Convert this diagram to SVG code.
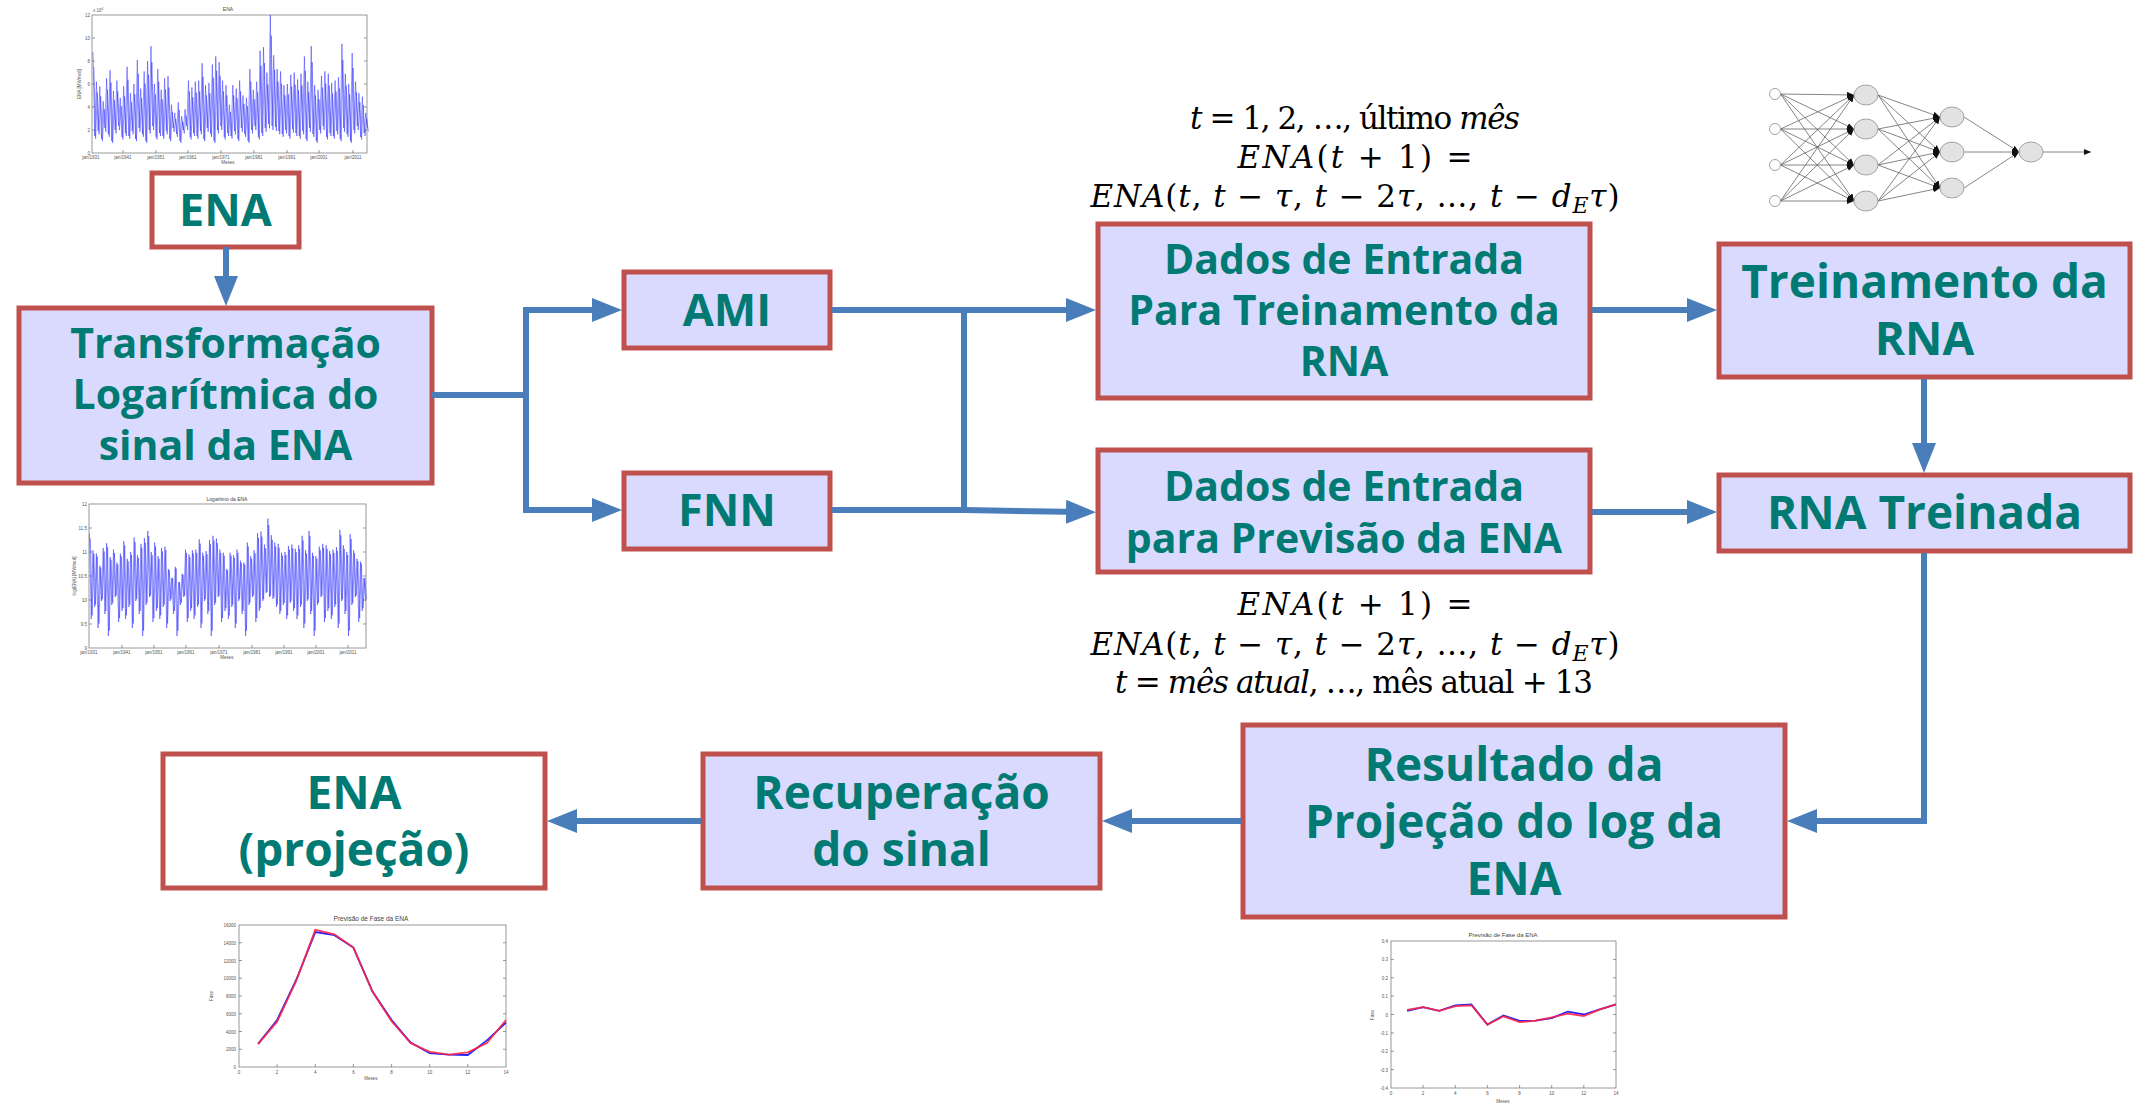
<svg xmlns="http://www.w3.org/2000/svg" width="2138" height="1111" viewBox="0 0 2138 1111">
<style>
.box{stroke:#C0504D;stroke-width:5;fill:#D9DAFD}
.wbox{stroke:#C0504D;stroke-width:5;fill:#FFFFFF}
.lbl{font-family:"Open Sans","Liberation Sans",sans-serif;font-weight:700;fill:#007A73;text-anchor:middle}
.con{stroke:#4A7EBB;stroke-width:6;fill:none}
.math{font-family:"DejaVu Serif","Liberation Serif",serif;font-size:31px;fill:#000;text-anchor:middle}
.it{font-style:italic}
.ax{fill:none;stroke:#555;stroke-width:0.6}
.tk{font-family:"Liberation Sans",Arial,sans-serif;fill:#555;font-size:4.5px}
.tkm{text-anchor:middle}
.tke{text-anchor:end}
.ct{font-family:"Liberation Sans",Arial,sans-serif;fill:#444;text-anchor:middle}
.ser{fill:none;stroke:#3333ff;stroke-width:0.8;stroke-opacity:0.65}
.ser2{stroke-opacity:0.3}
.blue{fill:none;stroke:#2424ff;stroke-width:1.8}
.red{fill:none;stroke:#ff2445;stroke-width:1.8;stroke-opacity:0.9}
.nn{stroke:#666;stroke-width:0.8;fill:none}
.nnode{fill:#e2e2e2;stroke:#999;stroke-width:0.9}
.inode{fill:#fff;stroke:#999;stroke-width:0.9}
</style>
<defs>
<marker id="ah" viewBox="0 0 30 24" markerWidth="30" markerHeight="24" refX="15" refY="12" orient="auto" markerUnits="userSpaceOnUse"><path d="M0,0 L30,12 L0,24 z" fill="#4A7EBB"/></marker>
<marker id="nah" viewBox="0 0 7 6" markerWidth="7" markerHeight="6" refX="7" refY="3" orient="auto" markerUnits="userSpaceOnUse"><path d="M0,0 L7,3 L0,6 z" fill="#111"/></marker>
</defs>
<rect width="2138" height="1111" fill="#FFFFFF"/>

<!-- Chart: ENA -->
<g id="chart-ena">
<text class="ct" x="228" y="11" font-size="5">ENA</text>
<text class="tk" x="93" y="12">x 10<tspan font-size="3" dy="-2">4</tspan></text>
<polyline id="s1" class="ser" vector-effect="non-scaling-stroke" transform="translate(93,0) scale(1.705,1)" points="0,51.8 1,136 2,81.7 3,131 4,86.3 5,139 6,101.3 7,128 8,78.3 9,134 10,70.2 11,141 12,90.9 13,130 14,80.6 15,126 16,97.8 17,137 18,86.3 19,133 20,66.8 21,136 22,93.2 23,131 24,84 25,139 26,59.9 27,128 28,88.6 29,134 30,71.4 31,141 32,61 33,130 34,46.1 35,126 36,84 37,137 38,69.1 39,133 40,89.8 41,136 42,78.3 43,131 44,76 45,139 46,104.7 47,128 48,112.8 49,134 50,102.4 51,141 52,116.2 53,130 54,109.3 55,126 56,80.6 57,137 58,87.5 59,133 60,81.7 61,136 62,80.6 63,131 64,63.3 65,139 66,85.2 67,128 68,82.9 69,134 70,64.5 71,141 72,56.4 73,130 74,62.2 75,126 76,80.6 77,137 78,85.2 79,133 80,104.7 81,136 82,85.2 83,131 84,88.6 85,139 86,80.6 87,128 88,95.5 89,134 90,97.8 91,141 92,69.1 93,130 94,89.8 95,126 96,81.7 97,137 98,50.7 99,133 100,47.2 101,128 102,72.5 103,124 104,15 105,126 106,55.3 107,127 108,69.1 109,131 110,71.4 111,134 112,85.2 113,130 114,84 115,136 116,74.8 117,129 118,72.5 119,133 120,79.4 121,136 122,73.7 123,131 124,56.4 125,139 126,81.7 127,128 128,46.1 129,134 130,85.2 131,141 132,89.8 133,130 134,76 135,126 136,71.4 137,137 138,73.7 139,133 140,82.9 141,136 142,80.6 143,131 144,77.1 145,139 146,43.8 147,128 148,73.7 149,134 150,84 151,141 152,53 153,130 154,81.7 155,126 156,93.2 157,137 158,96.7 159,133 160,112.8 161,128"/>
<use href="#s1" class="ser2" transform="translate(0.9,0) translate(0,153) scale(1,0.85) translate(0,-153)"/>
<rect class="ax" x="92" y="15" width="275" height="138"/>
<path class="ax" d="M92,130h3M92,107h3M92,84h3M92,61h3M92,38h3M367,130h-3M367,107h-3M367,84h-3M367,61h-3M367,38h-3M123,153v-3M156,153v-3M188,153v-3M221,153v-3M254,153v-3M287,153v-3M319,153v-3M353,153v-3"/>
<text class="tk tke" x="90" y="155">0</text><text class="tk tke" x="90" y="132">2</text><text class="tk tke" x="90" y="109">4</text><text class="tk tke" x="90" y="86">6</text><text class="tk tke" x="90" y="63">8</text><text class="tk tke" x="90" y="40">10</text><text class="tk tke" x="90" y="17">12</text>
<text class="tk tkm" x="91" y="159">jan/1931</text><text class="tk tkm" x="123" y="159">jan/1941</text><text class="tk tkm" x="156" y="159">jan/1951</text><text class="tk tkm" x="188" y="159">jan/1961</text><text class="tk tkm" x="221" y="159">jan/1971</text><text class="tk tkm" x="254" y="159">jan/1981</text><text class="tk tkm" x="287" y="159">jan/1991</text><text class="tk tkm" x="319" y="159">jan/2001</text><text class="tk tkm" x="353" y="159">jan/2011</text>
<text class="tk tkm" x="228" y="164">Meses</text>
<text class="tk tkm" transform="translate(81,84) rotate(-90)">ENA [MWmed]</text>
</g>

<!-- Chart: Logaritmo da ENA -->
<g id="chart-log">
<text class="ct" x="227" y="501" font-size="5">Logaritmo da ENA</text>
<polyline id="s2" class="ser" vector-effect="non-scaling-stroke" transform="translate(89.5,0) scale(1.715,1)" points="0,533.5 1,619 2,550.3 3,607 4,553.5 5,628 6,565.7 7,601 8,548 9,614 10,543.2 11,636 12,557 13,605 14,549.6 15,597 16,562.6 17,622 18,553.5 19,611 20,541.2 21,619 22,558.8 23,607 24,551.9 25,628 26,537.5 27,601 28,555.2 29,614 30,543.8 31,636 32,538.1 33,605 34,530.9 35,597 36,551.9 37,622 38,542.5 39,611 40,556.1 41,619 42,548 43,607 44,546.6 45,628 46,569 47,601 48,577.8 49,614 50,566.8 51,636 52,582.1 53,605 54,573.8 55,597 56,549.6 57,622 58,554.4 59,611 60,550.3 61,619 62,549.6 63,607 64,539.3 65,628 66,552.7 67,601 68,551.1 69,614 70,540 71,636 72,535.8 73,605 74,538.7 75,597 76,549.6 77,622 78,552.7 79,611 80,569 81,619 82,552.7 83,607 84,555.2 85,628 86,549.6 87,601 88,560.7 89,614 90,562.6 91,636 92,542.5 93,605 94,556.1 95,597 96,550.3 97,622 98,533 99,611 100,531.4 101,601 102,544.5 103,593 104,518.6 105,597 106,535.2 107,599 108,542.5 109,607 110,543.8 111,614 112,552.7 113,605 114,551.9 115,619 116,545.9 117,603 118,544.5 119,611 120,548.8 121,619 122,545.2 123,607 124,535.8 125,628 126,550.3 127,601 128,530.9 129,614 130,552.7 131,636 132,556.1 133,605 134,546.6 135,597 136,543.8 137,622 138,545.2 139,611 140,551.1 141,619 142,549.6 143,607 144,547.3 145,628 146,529.9 147,601 148,545.2 149,614 150,551.9 151,636 152,534.1 153,605 154,550.3 155,597 156,558.8 157,622 158,561.6 159,611 160,577.8 161,601"/>
<use href="#s2" class="ser2" transform="translate(0.9,0) translate(0,583) scale(1,0.9) translate(0,-583)"/>
<rect class="ax" x="89" y="504" width="277" height="144"/>
<path class="ax" d="M89,528h3M89,552h3M89,576h3M89,600h3M89,624h3M366,528h-3M366,552h-3M366,576h-3M366,600h-3M366,624h-3M122,648v-3M154,648v-3M186,648v-3M219,648v-3M252,648v-3M284,648v-3M316,648v-3M348,648v-3"/>
<text class="tk tke" x="87" y="650">9</text><text class="tk tke" x="87" y="626">9.5</text><text class="tk tke" x="87" y="602">10</text><text class="tk tke" x="87" y="578">10.5</text><text class="tk tke" x="87" y="554">11</text><text class="tk tke" x="87" y="530">11.5</text><text class="tk tke" x="87" y="506">12</text>
<text class="tk tkm" x="89" y="654">jan/1931</text><text class="tk tkm" x="122" y="654">jan/1941</text><text class="tk tkm" x="154" y="654">jan/1951</text><text class="tk tkm" x="186" y="654">jan/1961</text><text class="tk tkm" x="219" y="654">jan/1971</text><text class="tk tkm" x="252" y="654">jan/1981</text><text class="tk tkm" x="284" y="654">jan/1991</text><text class="tk tkm" x="316" y="654">jan/2001</text><text class="tk tkm" x="348" y="654">jan/2011</text>
<text class="tk tkm" x="227" y="659">Meses</text>
<text class="tk tkm" transform="translate(76,576) rotate(-90)">log(ENA) [MWmed]</text>
</g>

<!-- Chart: Previsão (ENA) -->
<g id="chart-prev-ena">
<text class="ct" x="371" y="921" font-size="6.5">Previsão de Fase da ENA</text>
<rect class="ax" x="239" y="925" width="267" height="142"/>
<path class="ax" d="M239,1049.25h3M239,1031.5h3M239,1013.75h3M239,996h3M239,978.25h3M239,960.5h3M239,942.75h3M506,1049.25h-3M506,1031.5h-3M506,1013.75h-3M506,996h-3M506,978.25h-3M506,960.5h-3M506,942.75h-3M277.1,1067v-3M315.3,1067v-3M353.4,1067v-3M391.6,1067v-3M429.7,1067v-3M467.8,1067v-3"/>
<polyline class="blue" points="258.1,1043.9 277.1,1020 296.2,980 315.3,932.1 334.4,935.2 353.4,947.6 372.5,991.6 391.6,1020 410.6,1042.6 429.7,1053.2 448.8,1054.6 467.8,1055 486.9,1040.4 506,1022.6"/>
<polyline class="red" points="258.1,1043.9 277.1,1021.7 296.2,980.9 315.3,929.9 334.4,934.3 353.4,947.6 372.5,991.6 391.6,1021.3 410.6,1043 429.7,1051.9 448.8,1054.6 467.8,1052.4 486.9,1043 506,1020"/>
<g class="tk tke" font-size="5.5"><text x="236" y="1069">0</text><text x="236" y="1051">2000</text><text x="236" y="1033.5">4000</text><text x="236" y="1015.5">6000</text><text x="236" y="998">8000</text><text x="236" y="980">10000</text><text x="236" y="962.5">12000</text><text x="236" y="944.5">14000</text><text x="236" y="927">16000</text></g>
<g class="tk tkm" font-size="5.5"><text x="239" y="1074">0</text><text x="277.1" y="1074">2</text><text x="315.3" y="1074">4</text><text x="353.4" y="1074">6</text><text x="391.6" y="1074">8</text><text x="429.7" y="1074">10</text><text x="467.8" y="1074">12</text><text x="506" y="1074">14</text></g>
<text class="tk tkm" x="371" y="1080" font-size="6">Meses</text>
<text class="tk tkm" font-size="6" transform="translate(213,996) rotate(-90)">Fase</text>
</g>

<!-- Chart: Previsão (log) -->
<g id="chart-prev-log">
<text class="ct" x="1503" y="937" font-size="6">Previsão de Fase da ENA</text>
<rect class="ax" x="1391" y="941" width="225" height="147"/>
<path class="ax" d="M1391,959.4h3M1391,977.8h3M1391,996.1h3M1391,1014.5h3M1391,1032.9h3M1391,1051.3h3M1391,1069.6h3M1616,959.4h-3M1616,977.8h-3M1616,996.1h-3M1616,1014.5h-3M1616,1032.9h-3M1616,1051.3h-3M1616,1069.6h-3M1423.1,1088v-3M1455.3,1088v-3M1487.4,1088v-3M1519.6,1088v-3M1551.7,1088v-3M1583.8,1088v-3"/>
<polyline class="blue" points="1407.1,1010.8 1423.1,1007.1 1439.2,1010.8 1455.3,1005.3 1471.4,1004.4 1487.4,1024.6 1503.5,1015.4 1519.6,1020.9 1535.6,1020.6 1551.7,1018.2 1567.8,1011.7 1583.8,1014.5 1599.9,1009.3 1616,1004.4"/>
<polyline class="red" points="1407.1,1009.9 1423.1,1007.1 1439.2,1010.8 1455.3,1006.2 1471.4,1005.3 1487.4,1024.6 1503.5,1016.3 1519.6,1022.2 1535.6,1020.6 1551.7,1017.3 1567.8,1013.6 1583.8,1016 1599.9,1009.3 1616,1004.4"/>
<g class="tk tke" font-size="5.5"><text x="1388" y="943">0.4</text><text x="1388" y="961.4">0.3</text><text x="1388" y="979.8">0.2</text><text x="1388" y="998.1">0.1</text><text x="1388" y="1016.5">0</text><text x="1388" y="1034.9">-0.1</text><text x="1388" y="1053.3">-0.2</text><text x="1388" y="1071.6">-0.3</text><text x="1388" y="1090">-0.4</text></g>
<g class="tk tkm" font-size="5.5"><text x="1391" y="1095">0</text><text x="1423.1" y="1095">2</text><text x="1455.3" y="1095">4</text><text x="1487.4" y="1095">6</text><text x="1519.6" y="1095">8</text><text x="1551.7" y="1095">10</text><text x="1583.8" y="1095">12</text><text x="1616" y="1095">14</text></g>
<text class="tk tkm" x="1503" y="1103" font-size="6">Meses</text>
<text class="tk tkm" font-size="6" transform="translate(1374,1015) rotate(-90)">Fase</text>
</g>

<!-- Neural network picture -->
<g id="neural-net">
<g class="nn" marker-end="url(#nah)">
<path d="M1780.5,94L1854,95"/><path d="M1780.5,94L1854,129"/><path d="M1780.5,94L1854,165"/><path d="M1780.5,94L1854,201"/>
<path d="M1780.5,129L1854,95"/><path d="M1780.5,129L1854,129"/><path d="M1780.5,129L1854,165"/><path d="M1780.5,129L1854,201"/>
<path d="M1780.5,165L1854,95"/><path d="M1780.5,165L1854,129"/><path d="M1780.5,165L1854,165"/><path d="M1780.5,165L1854,201"/>
<path d="M1780.5,201L1854,95"/><path d="M1780.5,201L1854,129"/><path d="M1780.5,201L1854,165"/><path d="M1780.5,201L1854,201"/>
<path d="M1878,95L1940,117"/><path d="M1878,95L1940,152"/><path d="M1878,95L1940,188"/>
<path d="M1878,129L1940,117"/><path d="M1878,129L1940,152"/><path d="M1878,129L1940,188"/>
<path d="M1878,165L1940,117"/><path d="M1878,165L1940,152"/><path d="M1878,165L1940,188"/>
<path d="M1878,201L1940,117"/><path d="M1878,201L1940,152"/><path d="M1878,201L1940,188"/>
<path d="M1964,117L2019,152"/><path d="M1964,152L2019,152"/><path d="M1964,188L2019,152"/>
<path d="M2043,152L2091,152"/>
</g>
<circle class="inode" cx="1775" cy="94" r="5.5"/><circle class="inode" cx="1775" cy="129" r="5.5"/><circle class="inode" cx="1775" cy="165" r="5.5"/><circle class="inode" cx="1775" cy="201" r="5.5"/>
<ellipse class="nnode" cx="1866" cy="95" rx="12" ry="10"/><ellipse class="nnode" cx="1866" cy="129" rx="12" ry="10"/><ellipse class="nnode" cx="1866" cy="165" rx="12" ry="10"/><ellipse class="nnode" cx="1866" cy="201" rx="12" ry="10"/>
<ellipse class="nnode" cx="1952" cy="117" rx="12" ry="10"/><ellipse class="nnode" cx="1952" cy="152" rx="12" ry="10"/><ellipse class="nnode" cx="1952" cy="188" rx="12" ry="10"/>
<ellipse class="nnode" cx="2031" cy="152" rx="12" ry="10"/>
</g>

<!-- Formulas -->
<g id="formula-top">
<text class="math" x="1355" y="129" textLength="330" lengthAdjust="spacing"><tspan class="it">t</tspan> = 1, 2, …, último <tspan class="it">mês</tspan></text>
<text class="math" x="1355" y="168" textLength="235" lengthAdjust="spacing"><tspan class="it">ENA</tspan>(<tspan class="it">t</tspan> + 1) =</text>
<text class="math" x="1355" y="207" textLength="529" lengthAdjust="spacing"><tspan class="it">ENA</tspan>(<tspan class="it">t</tspan>, <tspan class="it">t</tspan> − <tspan class="it">τ</tspan>, <tspan class="it">t</tspan> − 2<tspan class="it">τ</tspan>, …, <tspan class="it">t</tspan> − <tspan class="it">d</tspan><tspan class="it" font-size="22" dy="6">E</tspan><tspan class="it" dy="-6">τ</tspan>)</text>
</g>
<g id="formula-bottom">
<text class="math" x="1355" y="615" textLength="235" lengthAdjust="spacing"><tspan class="it">ENA</tspan>(<tspan class="it">t</tspan> + 1) =</text>
<text class="math" x="1355" y="655" textLength="529" lengthAdjust="spacing"><tspan class="it">ENA</tspan>(<tspan class="it">t</tspan>, <tspan class="it">t</tspan> − <tspan class="it">τ</tspan>, <tspan class="it">t</tspan> − 2<tspan class="it">τ</tspan>, …, <tspan class="it">t</tspan> − <tspan class="it">d</tspan><tspan class="it" font-size="22" dy="6">E</tspan><tspan class="it" dy="-6">τ</tspan>)</text>
<text class="math" x="1354" y="693" font-size="28" textLength="478" lengthAdjust="spacing"><tspan class="it">t</tspan> = <tspan class="it">mês atual</tspan>, …, mês atual + 13</text>
</g>

<!-- Nodes -->
<g id="node-ena">
<rect class="wbox" x="152" y="173" width="147" height="74"/>
<text class="lbl" x="225.5" y="226" font-size="45">ENA</text>
</g>
<g id="node-transformacao">
<rect class="box" x="19" y="308" width="413" height="175"/>
<text class="lbl" x="225.5" y="358" font-size="41">Transformação</text>
<text class="lbl" x="225.5" y="409" font-size="41">Logarítmica do</text>
<text class="lbl" x="225.5" y="460" font-size="41">sinal da ENA</text>
</g>
<g id="node-ami">
<rect class="box" x="624" y="272" width="206" height="76"/>
<text class="lbl" x="727" y="326" font-size="45">AMI</text>
</g>
<g id="node-fnn">
<rect class="box" x="624" y="473" width="206" height="76"/>
<text class="lbl" x="727" y="526" font-size="45">FNN</text>
</g>
<g id="node-dados-treino">
<rect class="box" x="1098" y="224" width="492" height="174"/>
<text class="lbl" x="1344" y="274" font-size="41">Dados de Entrada</text>
<text class="lbl" x="1344" y="325" font-size="41">Para Treinamento da</text>
<text class="lbl" x="1344" y="376" font-size="41">RNA</text>
</g>
<g id="node-dados-previsao">
<rect class="box" x="1098" y="450" width="492" height="122"/>
<text class="lbl" x="1344" y="501" font-size="41">Dados de Entrada</text>
<text class="lbl" x="1344" y="553" font-size="41">para Previsão da ENA</text>
</g>
<g id="node-treinamento">
<rect class="box" x="1719" y="244" width="411" height="133"/>
<text class="lbl" x="1924.5" y="298" font-size="46">Treinamento da</text>
<text class="lbl" x="1924.5" y="355" font-size="46">RNA</text>
</g>
<g id="node-rna-treinada">
<rect class="box" x="1719" y="475" width="411" height="76"/>
<text class="lbl" x="1924.5" y="529" font-size="46">RNA Treinada</text>
</g>
<g id="node-resultado">
<rect class="box" x="1243" y="725" width="542" height="192"/>
<text class="lbl" x="1514" y="781" font-size="46">Resultado da</text>
<text class="lbl" x="1514" y="838" font-size="46">Projeção do log da</text>
<text class="lbl" x="1514" y="895" font-size="46">ENA</text>
</g>
<g id="node-recuperacao">
<rect class="box" x="703" y="754" width="397" height="134"/>
<text class="lbl" x="901.5" y="809" font-size="46">Recuperação</text>
<text class="lbl" x="901.5" y="866" font-size="46">do sinal</text>
</g>
<g id="node-ena-projecao">
<rect class="wbox" x="163" y="754" width="382" height="134"/>
<text class="lbl" x="354" y="809" font-size="46">ENA</text>
<text class="lbl" x="354" y="866" font-size="46">(projeção)</text>
</g>

<!-- Connectors -->
<g id="connectors">
<path class="con" d="M226,247 V291" marker-end="url(#ah)"/>
<path class="con" d="M432,395 H526"/>
<path class="con" d="M526,307 V513"/>
<path class="con" d="M523,310 H607" marker-end="url(#ah)"/>
<path class="con" d="M523,510 H607" marker-end="url(#ah)"/>
<path class="con" d="M832,310 H1081" marker-end="url(#ah)"/>
<path class="con" d="M964,310 V510"/>
<path class="con" d="M832,510 H964 L1081,512" marker-end="url(#ah)"/>
<path class="con" d="M1592,310 H1702" marker-end="url(#ah)"/>
<path class="con" d="M1592,512 H1702" marker-end="url(#ah)"/>
<path class="con" d="M1924,379 V458" marker-end="url(#ah)"/>
<path class="con" d="M1924,553 V821 H1802" marker-end="url(#ah)"/>
<path class="con" d="M1241,821 H1117" marker-end="url(#ah)"/>
<path class="con" d="M701,821 H562" marker-end="url(#ah)"/>
</g>
</svg>
